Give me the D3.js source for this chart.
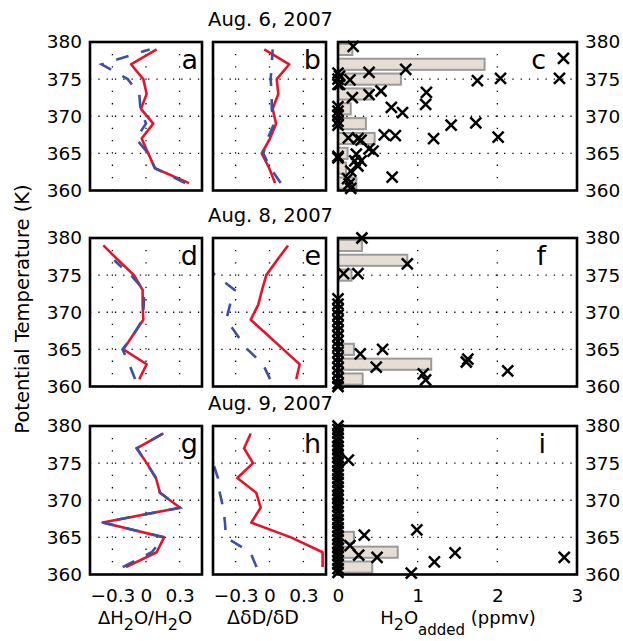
<!DOCTYPE html>
<html lang="en">
<head>
<meta charset="UTF-8" />
<title>H2O and dD anomalies, Aug. 2007</title>
<script src="https://d3js.org/d3.v7.min.js"></script>
<style>
  body { margin: 0; background: #fff; }
  svg text { font-family: 'DejaVu Sans', sans-serif; fill: #000; }
</style>
</head>
<body>
<svg width="623" height="641"></svg>
<script>
// potential temperature levels (K), bottom to top
const theta = [361, 363, 365, 367, 369, 371, 373, 375, 377, 379];

// dH2O/H2O profiles (panels a, d, g)
const aRed  = [0.384, 0.08, 0.02, -0.039, 0.065, -0.045, 0.006, -0.024, -0.134, 0.095];
const aBlue = [0.35, 0.08, 0.02, -0.09, 0.0, -0.05, -0.06, -0.163, -0.396, 0.033];
const dRed  = [-0.06, 0.006, -0.202, -0.113, -0.024, -0.03, -0.03, -0.107, -0.247, -0.381];
const dBlue = [-0.098, -0.149, -0.21, -0.11, -0.03, -0.02, -0.015, -0.137, -0.284, null];
const gRed  = [-0.179, 0.095, 0.161, -0.387, 0.304, 0.125, 0.089, 0.006, -0.083, 0.155];
const gBlue = [-0.208, 0.051, 0.161, -0.387, 0.304, 0.125, 0.089, 0.006, -0.083, 0.155];

// ddD/dD profiles (panels b, e, h)
const bRed  = [0.049, -0.002, -0.069, 0.004, 0.058, 0.028, 0.078, 0.064, 0.175, -0.046];
const bBlue = [0.099, 0.01, -0.055, -0.016, 0.04, 0.02, 0.02, 0.01, 0.02, 0.028];
const eRed  = [0.237, 0.267, 0.122, -0.022, -0.166, -0.1, -0.066, -0.028, 0.066, 0.164];
const eBlue = [0.005, -0.058, -0.195, -0.29, -0.382, -0.35, -0.308, -0.48, -0.62, -0.62];
const hRed  = [0.47, 0.47, 0.19, -0.161, -0.078, -0.117, -0.285, -0.146, -0.225, -0.166];
const hBlue = [-0.115, -0.17, -0.385, -0.394, -0.41, -0.44, -0.456, -0.5, -0.55, -0.485];

// H2O added histograms (ppmv), one bar per theta level
const cBars = [0.23, 0.1, 0.12, 0.46, 0.35, 0.16, 0.42, 0.79, 1.84, 0.18];
const fBars = [0.31, 1.17, 0.2, 0, 0, 0, 0, 0.17, 0.87, 0.3];
const iBars = [0.43, 0.75, 0.2, 0, 0, 0, 0, 0.05, 0, 0];

// H2O added per parcel: [ppmv, theta]
const cPts = [[0.19, 379.4], [0.39, 375.9], [0.85, 376.3], [1.75, 374.8], [2.04, 375.1],
  [2.78, 375.1], [2.83, 377.8], [0.02, 375.4], [0.15, 374.9], [0.02, 374.3], [0.54, 373.4],
  [0.39, 372.9], [0.18, 372.5], [1.11, 373.2], [1.1, 371.6], [0.67, 371.2], [0.81, 370.5],
  [1.42, 368.8], [1.73, 369.1], [0.58, 367.5], [0.72, 367.4], [1.2, 367.0], [2.01, 367.2],
  [0.13, 367.1], [0.25, 367.0], [0.29, 366.8], [0.39, 365.6], [0.44, 365.3], [0.23, 364.9],
  [0.21, 364.0], [0.29, 364.0], [0.25, 363.3], [0.16, 362.6], [0.68, 361.8], [0.12, 361.6],
  [0.14, 360.9], [0.16, 360.3]];
const cZeros = [375.8, 375.0, 374.3, 371.3, 370.7, 370.2, 369.3, 368.8, 364.6, 364.4];
const fPts = [[0.3, 380.0], [0.87, 376.5], [0.07, 375.2], [0.25, 375.2], [0.56, 365.0],
  [0.28, 364.4], [0.48, 362.6], [1.63, 363.7], [1.61, 363.3], [2.13, 362.1], [1.07, 361.7],
  [1.1, 360.9]];
const fZeros = [371.8, 371.1, 370.4, 369.6, 368.9, 368.2, 367.5, 366.8, 366.1, 365.4,
  364.6, 363.9, 363.2, 362.5, 361.8, 361.1, 360.4, 360.0];
const iPts = [[0.13, 375.4], [0.33, 365.3], [0.99, 366.0], [0.15, 363.9], [0.26, 362.6],
  [0.49, 362.3], [1.21, 361.7], [1.47, 362.9], [2.84, 362.3], [0.92, 360.2]];
const iZeros = [380.0, 379.5, 379.0, 378.4, 377.9, 377.3, 376.8, 376.2, 375.7, 375.1,
  374.6, 374.0, 373.5, 372.9, 372.4, 371.8, 371.3, 370.7, 370.2, 369.6, 369.1, 368.5,
  368.0, 367.4, 366.9, 366.3, 365.8, 365.2, 364.7, 364.1, 363.6, 363.0, 362.5, 361.9,
  361.4, 360.8, 360.3];

// ticks and labels
const thetaTicks = [360, 365, 370, 375, 380];
const thetaGrid = [365, 370, 375];
const deltaTicks = [-0.3, 0, 0.3];
const addedTicks = [0, 1, 2, 3];
const addedGrid = [1, 2];
const dates = ['Aug. 6, 2007', 'Aug. 8, 2007', 'Aug. 9, 2007'];
const letters = [['a', 'b', 'c'], ['d', 'e', 'f'], ['g', 'h', 'i']];

const RED = '#e3152d';
const BLUE = '#3d50a2';

const svg = d3.select('svg');
const colX = [[90, 202], [213, 326], [338, 577]];
const rowTop = [42, 238, 426];
const rowH = 148.5;
const letterRight = [198, 321, 546];
const fmt = d3.format('~g');

const xH2O = d3.scaleLinear().domain([-0.5, 0.5]).range(colX[0]);
const xDD = d3.scaleLinear().domain([-0.5, 0.5]).range(colX[1]);
const xAdded = d3.scaleLinear().domain([0, 3]).range(colX[2]);

const rows = [
  { red: [aRed, bRed], blue: [aBlue, bBlue], bars: cBars, pts: cPts, zeros: cZeros },
  { red: [dRed, eRed], blue: [dBlue, eBlue], bars: fBars, pts: fPts, zeros: fZeros },
  { red: [gRed, hRed], blue: [gBlue, hBlue], bars: iBars, pts: iPts, zeros: iZeros },
];

const defs = svg.append('defs');

function drawGrid(g, x, y, xs) {
  const [x0, x1] = x.range();
  const [y0, y1] = y.range();
  g.selectAll('.hgrid')
    .data(thetaGrid)
    .enter()
    .append('line')
    .attr('x1', x0).attr('x2', x1)
    .attr('y1', (d) => y(d)).attr('y2', (d) => y(d))
    .attr('stroke', '#000')
    .attr('stroke-width', 1.3)
    .attr('stroke-dasharray', '1.3,7');
  g.selectAll('.vgrid')
    .data(xs)
    .enter()
    .append('line')
    .attr('x1', (d) => x(d)).attr('x2', (d) => x(d))
    .attr('y1', y0).attr('y2', y1)
    .attr('stroke', '#000')
    .attr('stroke-width', 1.3)
    .attr('stroke-dasharray', '1.3,11');
}

function drawBox(g, x, y) {
  const [x0, x1] = x.range();
  const [y0, y1] = y.range();
  g.append('rect')
    .attr('x', x0).attr('y', y1)
    .attr('width', x1 - x0).attr('height', y0 - y1)
    .attr('fill', 'none')
    .attr('stroke', '#000')
    .attr('stroke-width', 2.6);
}

function styleAxis(g, size) {
  g.select('.domain').remove();
  g.attr('font-family', "'DejaVu Sans', sans-serif").attr('font-size', size);
}

rows.forEach((row, r) => {
  const y = d3.scaleLinear().domain([360, 380]).range([rowTop[r] + rowH, rowTop[r]]);

  // profile panels
  [xH2O, xDD].forEach((x, c) => {
    const g = svg.append('g');
    const clipId = `clip-${r}-${c}`;
    defs.append('clipPath').attr('id', clipId)
      .append('rect')
      .attr('x', x.range()[0]).attr('y', rowTop[r])
      .attr('width', x.range()[1] - x.range()[0]).attr('height', rowH);

    drawGrid(g, x, y, deltaTicks);

    const line = d3.line()
      .defined((d) => d[1] != null)
      .x((d) => x(d[1]))
      .y((d) => y(d[0]));

    g.append('path')
      .datum(theta.map((t, i) => [t, row.red[c][i]]))
      .attr('clip-path', `url(#${clipId})`)
      .attr('d', line)
      .attr('fill', 'none')
      .attr('stroke', RED)
      .attr('stroke-width', 2.6)
      .attr('stroke-linejoin', 'round');

    g.append('path')
      .datum(theta.map((t, i) => [t, row.blue[c][i]]))
      .attr('clip-path', `url(#${clipId})`)
      .attr('d', line)
      .attr('fill', 'none')
      .attr('stroke', BLUE)
      .attr('stroke-width', 2.6)
      .attr('stroke-dasharray', '13,13');

    drawBox(g, x, y);
  });

  // H2O added panel
  const g = svg.append('g');
  drawGrid(g, xAdded, y, addedGrid);

  g.selectAll('.bar')
    .data(theta.map((t, i) => [t, row.bars[i]]).filter((d) => d[1] > 0))
    .enter()
    .append('rect')
    .attr('x', xAdded(0))
    .attr('y', (d) => y(d[0] + 0.75))
    .attr('width', (d) => xAdded(d[1]) - xAdded(0))
    .attr('height', (d) => y(d[0] - 0.75) - y(d[0] + 0.75))
    .attr('fill', '#e6ded5')
    .attr('stroke', '#9a9a9a')
    .attr('stroke-width', 2);

  drawBox(g, xAdded, y);

  const pts = row.pts.concat(row.zeros.map((t) => [0, t]));
  g.selectAll('.mark')
    .data(pts)
    .enter()
    .append('path')
    .attr('transform', (d) => `translate(${xAdded(d[0])},${y(d[1])})`)
    .attr('d', 'M-5.5,-5.5L5.5,5.5M-5.5,5.5L5.5,-5.5')
    .attr('stroke', '#000')
    .attr('stroke-width', 2.5)
    .attr('fill', 'none');

  // axes
  const left = svg.append('g')
    .attr('transform', `translate(${colX[0][0]},0)`)
    .call(d3.axisLeft(y).tickValues(thetaTicks).tickSize(0).tickPadding(8));
  styleAxis(left, 18.5);

  const right = svg.append('g')
    .attr('transform', `translate(${colX[2][1]},0)`)
    .call(d3.axisRight(y).tickValues(thetaTicks).tickSize(0).tickPadding(8));
  styleAxis(right, 18.5);

  // date title and panel letters
  svg.append('text')
    .attr('x', 270.5)
    .attr('y', rowTop[r] - 16)
    .attr('text-anchor', 'middle')
    .attr('font-size', 19.5)
    .text(dates[r]);

  letters[r].forEach((l, c) => {
    svg.append('text')
      .attr('x', letterRight[c])
      .attr('y', rowTop[r] + 27)
      .attr('text-anchor', 'end')
      .attr('font-size', 27)
      .text(l);
  });

  if (r === 2) {
    const base = rowTop[r] + rowH;
    [[xH2O, deltaTicks], [xDD, deltaTicks], [xAdded, addedTicks]].forEach(([x, ticks]) => {
      const bottom = svg.append('g')
        .attr('transform', `translate(0,${base})`)
        .call(d3.axisBottom(x).tickValues(ticks).tickFormat(fmt).tickSize(0).tickPadding(14.5));
      styleAxis(bottom, 18.5);
    });
  }
});

// axis titles
const xLab = svg.append('g').attr('font-size', 18);

const t1 = xLab.append('text').attr('x', 145).attr('y', 624).attr('text-anchor', 'middle');
t1.append('tspan').text('\u0394H');
t1.append('tspan').attr('dy', 6).attr('font-size', 16).text('2');
t1.append('tspan').attr('dy', -6).text('O/H');
t1.append('tspan').attr('dy', 6).attr('font-size', 16).text('2');
t1.append('tspan').attr('dy', -6).text('O');

xLab.append('text')
  .attr('x', 263).attr('y', 624)
  .attr('text-anchor', 'middle')
  .attr('font-size', 19)
  .text('\u0394\u03b4D/\u03b4D');

const t3 = xLab.append('text').attr('x', 458).attr('y', 624).attr('text-anchor', 'middle');
t3.append('tspan').text('H');
t3.append('tspan').attr('dy', 6).attr('font-size', 16).text('2');
t3.append('tspan').attr('dy', -6).text('O');
t3.append('tspan').attr('dy', 11).attr('font-size', 15).text('added');
t3.append('tspan').attr('dy', -11).text(' (ppmv)');

svg.append('text')
  .attr('transform', 'translate(29,309) rotate(-90)')
  .attr('text-anchor', 'middle')
  .attr('font-size', 19.5)
  .text('Potential Temperature (K)');
</script>
</body>
</html>
